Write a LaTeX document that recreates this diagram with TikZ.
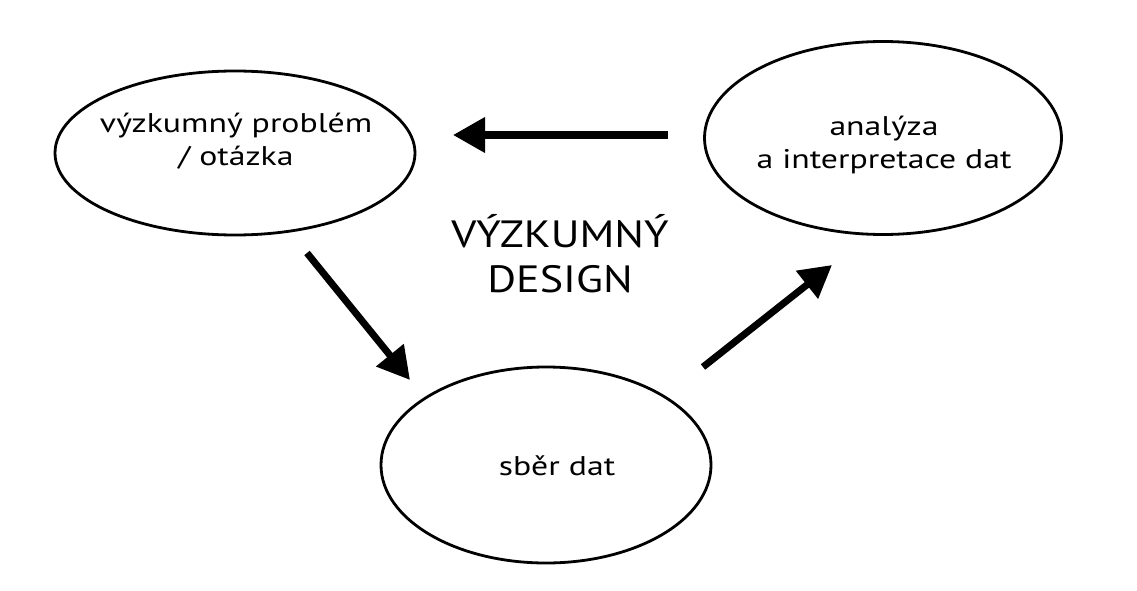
\documentclass[tikz,border=0pt]{standalone}
\usepackage{fontspec}
\setmainfont{PT Sans}
\newfontfamily\widesans[FakeStretch=1.25]{PT Sans}
\newfontfamily\titlesans[FakeStretch=1.16]{PT Sans}
\usetikzlibrary{arrows.meta,shapes.geometric}
\tikzset{
  bubble/.style={draw, line width=2.8pt, ellipse, inner sep=0pt},
  lbl/.style={font=\widesans\fontsize{27}{33}\selectfont, align=center, inner sep=0pt, anchor=base},
  bigarrow/.style={line width=7pt, -{Triangle[length=32pt,width=34pt]}}
}
\begin{document}
\begin{tikzpicture}[x=1pt,y=-1pt]
\useasboundingbox (0,0) rectangle (1137,591);
\fill[white] (0,0) rectangle (1137,591);
% ellipses
\node[bubble, minimum width=360pt, minimum height=164pt] (prob) at (235,153) {};
\node[bubble, minimum width=357pt, minimum height=193pt] (anal) at (883,138) {};
\node[bubble, minimum width=330pt, minimum height=196pt] (sber) at (546,465) {};
% labels
\node[lbl] (probt) at (236,165) {výzkumný problém\\/ otázka};
\node[lbl] (analt) at (884,168) {analýza\\a interpretace dat};
\node[lbl] (sbert) at (557,475) {sběr dat};
\node[font=\titlesans\fontsize{38}{45}\selectfont, align=center, inner sep=0pt, anchor=base] (design) at (560,292) {VÝZKUMNÝ\\DESIGN};
% arrow end points
\coordinate (a1s) at (668,135);
\coordinate (a1e) at (453,135);
\coordinate (a2s) at (307,253);
\coordinate (a2e) at (410,380);
\coordinate (a3s) at (703,367);
\coordinate (a3e) at (832,265);
\draw[bigarrow] (a1s) -- (a1e);
\draw[bigarrow] (a2s) -- (a2e);
\draw[bigarrow] (a3s) -- (a3e);
\end{tikzpicture}
\end{document}
